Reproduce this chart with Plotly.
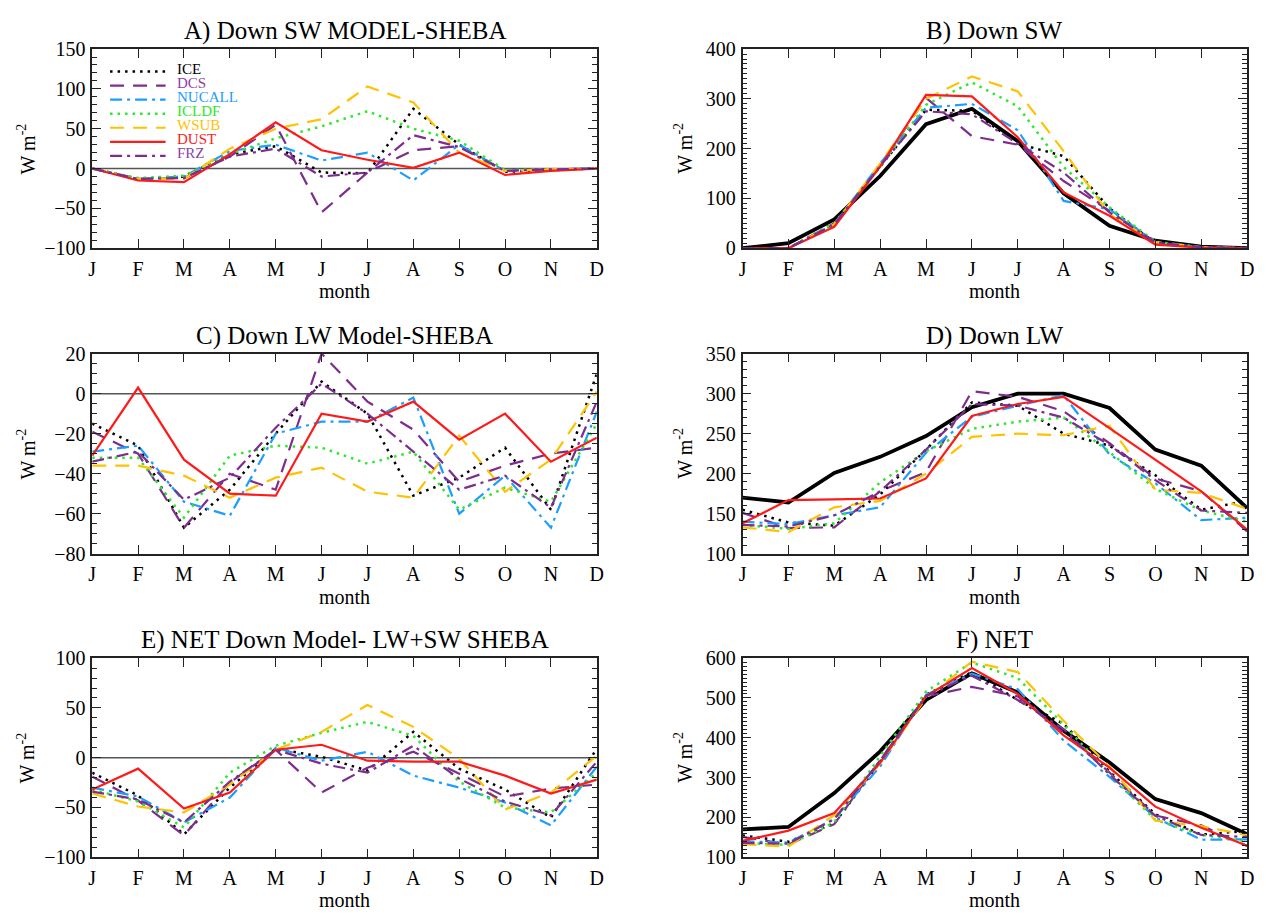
import plotly.graph_objects as go

# ---------------- data ----------------
months = ["J", "F", "M", "A", "M", "J", "J", "A", "S", "O", "N", "D"]
series_names = ["ICE", "DCS", "NUCALL", "ICLDF", "WSUB", "DUST", "FRZ"]

# A) Down SW  model - SHEBA
A_ice    = [0, -13, -10, 18, 28, -5, -6, 75, 30, -4, -2, 0]
A_dcs    = [0, -13, -12, 15, 55, -55, -5, 23, 28, -3, -1, 0]
A_nucall = [0, -13, -10, 22, 30, 10, 20, -15, 30, -3, -1, 0]
A_icldf  = [0, -12, -9, 18, 38, 53, 72, 50, 35, -2, -1, 0]
A_wsub   = [0, -13, -13, 25, 50, 62, 103, 83, 20, -3, -1, 0]
A_dust   = [0, -15, -17, 18, 58, 23, 11, 1, 20, -8, -3, 0]
A_frz    = [0, -13, -12, 15, 25, -10, -5, 42, 27, -3, -1, 0]

# B) Down SW
B_sheba  = [0, 10, 58, 145, 249, 280, 215, 110, 45, 15, 3, 0]
B_ice    = [0, 0, 50, 165, 278, 276, 210, 185, 80, 10, 2, 0]
B_dcs    = [0, 0, 50, 165, 302, 225, 208, 135, 75, 11, 2, 0]
B_nucall = [0, 0, 48, 170, 282, 290, 237, 95, 78, 12, 2, 0]
B_icldf  = [0, 0, 50, 165, 288, 333, 285, 163, 82, 13, 2, 0]
B_wsub   = [0, 0, 48, 170, 300, 345, 315, 195, 68, 12, 2, 0]
B_dust   = [0, 0, 43, 164, 308, 305, 223, 112, 65, 7, 1, 0]
B_frz    = [0, 0, 48, 165, 275, 269, 210, 152, 72, 12, 2, 0]

# C) Down LW  model - SHEBA
C_ice    = [-15, -26, -67, -48, -20, 6, -10, -51, -42, -27, -58, 10]
C_dcs    = [-19, -30, -67, -40, -48, 20, -4, -18, -44, -36, -30, -27]
C_nucall = [-29, -26, -54, -61, -20, -14, -14, -2, -60, -41, -67, -9]
C_icldf  = [-32, -32, -62, -31, -26, -27, -35, -29, -58, -47, -54, -15]
C_wsub   = [-36, -36, -41, -52, -42, -37, -49, -52, -21, -49, -33, 1]
C_dust   = [-31, 3, -33, -50, -51, -10, -14, -4, -23, -10, -34, -22]
C_frz    = [-34, -29, -53, -42, -17, 5, -10, -29, -48, -41, -57, -4]

# D) Down LW
D_sheba  = [170, 164, 201, 221, 247, 283, 300, 300, 282, 230, 210, 157]
D_ice    = [155, 139, 135, 174, 230, 289, 285, 250, 235, 198, 155, 166]
D_dcs    = [151, 132, 133, 178, 202, 303, 296, 278, 238, 194, 178, 128]
D_nucall = [140, 137, 148, 158, 226, 271, 285, 298, 224, 188, 142, 145]
D_icldf  = [136, 131, 138, 189, 228, 256, 265, 270, 227, 181, 154, 140]
D_wsub   = [133, 127, 158, 166, 200, 246, 250, 248, 260, 180, 176, 156]
D_dust   = [138, 167, 168, 169, 194, 272, 287, 296, 257, 217, 178, 130]
D_frz    = [136, 134, 148, 178, 230, 287, 285, 270, 236, 192, 154, 151]

# E) NET Down  model - SHEBA
E_ice    = [-15, -38, -77, -30, 9, 1, -13, 26, -11, -32, -60, 9]
E_dcs    = [-19, -43, -78, -25, 8, -35, -10, 6, -16, -39, -31, -27]
E_nucall = [-30, -39, -65, -40, 10, -3, 6, -18, -30, -45, -68, -9]
E_icldf  = [-32, -44, -70, -15, 12, 25, 36, 22, -24, -50, -55, -15]
E_wsub   = [-36, -49, -55, -27, 8, 26, 53, 31, -1, -52, -35, 2]
E_dust   = [-32, -11, -51, -35, 8, 13, -3, -4, -4, -18, -36, -22]
E_frz    = [-34, -42, -65, -24, 8, -6, -15, 12, -21, -44, -58, -4]

# F) NET
F_sheba  = [170, 176, 261, 366, 495, 562, 514, 418, 338, 246, 211, 158]
F_ice    = [155, 139, 185, 339, 508, 565, 495, 435, 315, 208, 157, 166]
F_dcs    = [151, 132, 183, 343, 504, 528, 504, 413, 313, 205, 180, 128]
F_nucall = [140, 137, 196, 328, 508, 561, 522, 393, 302, 200, 144, 145]
F_icldf  = [136, 131, 188, 354, 516, 589, 550, 433, 309, 194, 156, 140]
F_wsub   = [133, 127, 206, 336, 500, 591, 565, 443, 328, 192, 178, 156]
F_dust   = [141, 167, 211, 337, 504, 575, 510, 406, 325, 227, 174, 129]
F_frz    = [136, 134, 196, 343, 505, 556, 495, 422, 308, 204, 156, 151]

# ---------------- styles ----------------
series_colors = ["#000000", "#7D2E8D", "#1A9EFF", "#2DE82D", "#FFC200", "#FF1A1A", "#7D2E8D"]
text_colors   = ["#000000", "#8E3FA6", "#1A9EFF", "#2DE82D", "#FFC200", "#FF1A1A", "#8E3FA6"]
series_dash   = ["2.5px,5px", "14px,9px", "12px,5px,3px,5px", "2.5px,5px",
                 "14px,9px", "solid", "12px,5px,3px,5px"]
series_width  = [2.5, 2.2, 2.2, 2.5, 2.2, 2.2, 2.2]

FONT = "Liberation Serif"
W, H = 1266, 920
COLS = [(89, 598), (745, 1254)]
ROWS = [(39, 243), (351, 556), (663, 867)]


def fx(p):
    return p / W


def fy(p):
    return 1 - p / H


panels = [
    ("A) Down SW MODEL-SHEBA", 0, 0, [-100, 150], 50, 10,
     [A_ice, A_dcs, A_nucall, A_icldf, A_wsub, A_dust, A_frz], None),
    ("B) Down SW", 0, 1, [0, 400], 100, 10,
     [B_ice, B_dcs, B_nucall, B_icldf, B_wsub, B_dust, B_frz], B_sheba),
    ("C) Down LW Model-SHEBA", 1, 0, [-80, 20], 20, 5,
     [C_ice, C_dcs, C_nucall, C_icldf, C_wsub, C_dust, C_frz], None),
    ("D) Down LW", 1, 1, [100, 350], 50, 10,
     [D_ice, D_dcs, D_nucall, D_icldf, D_wsub, D_dust, D_frz], D_sheba),
    ("E) NET Down Model- LW+SW SHEBA", 2, 0, [-100, 100], 50, 10,
     [E_ice, E_dcs, E_nucall, E_icldf, E_wsub, E_dust, E_frz], None),
    ("F) NET", 2, 1, [100, 600], 100, 10,
     [F_ice, F_dcs, F_nucall, F_icldf, F_wsub, F_dust, F_frz], F_sheba),
]

xpos = list(range(len(months)))
fig = go.Figure()
annotations = []
shapes = []
layout = {}

for k, (title, r, c, yr, dt, mdt, models, sheba) in enumerate(panels, start=1):
    xa = "x" if k == 1 else f"x{k}"
    ya = "y" if k == 1 else f"y{k}"
    xl, xr = COLS[c]
    yt, yb = ROWS[r]

    if sheba is None:
        shapes.append(dict(type="line", xref=f"{xa} domain", yref=ya, x0=0, x1=1, y0=0, y1=0,
                           line=dict(color="#555555", width=1.5), layer="below"))
    else:
        fig.add_trace(go.Scatter(x=xpos, y=sheba, mode="lines", name="SHEBA",
                                 line=dict(color="black", width=3.8),
                                 xaxis=xa, yaxis=ya, showlegend=False))
    for i, vals in enumerate(models):
        fig.add_trace(go.Scatter(x=xpos, y=vals, mode="lines", name=series_names[i],
                                 line=dict(color=series_colors[i], width=series_width[i],
                                           dash=series_dash[i]),
                                 xaxis=xa, yaxis=ya, showlegend=False))

    common = dict(showline=True, linecolor="#222222", linewidth=1.5, mirror="ticks",
                  ticks="inside", tickcolor="#222222", tickwidth=1.3, ticklen=9,
                  showgrid=False, zeroline=False,
                  tickfont=dict(family=FONT, size=20, color="black"))
    layout["xaxis" if k == 1 else f"xaxis{k}"] = dict(
        common, domain=[fx(xl), fx(xr)], anchor=ya, range=[0, 11],
        tickmode="array", tickvals=xpos, ticktext=months, ticklabelstandoff=2)
    layout["yaxis" if k == 1 else f"yaxis{k}"] = dict(
        common, domain=[fy(yb), fy(yt)], anchor=xa, range=yr,
        tickmode="linear", tick0=0, dtick=dt, ticklabelstandoff=1,
        minor=dict(dtick=mdt, tick0=0, ticks="inside", ticklen=5, tickcolor="#222222",
                   tickwidth=1.1, showgrid=False))

    annotations.append(dict(text=title, xref="paper", yref="paper",
                            x=fx((xl + xr) / 2), y=fy(yt - 18.5), xanchor="center", yanchor="middle",
                            showarrow=False, font=dict(family=FONT, size=25, color="black")))
    annotations.append(dict(text="month", xref="paper", yref="paper",
                            x=fx((xl + xr) / 2), y=fy(yb + 44), xanchor="center", yanchor="middle",
                            showarrow=False, font=dict(family=FONT, size=20, color="black")))
    ytx = 22 if c == 0 else 685
    annotations.append(dict(text="W m<sup>-2</sup>", xref="paper", yref="paper",
                            x=fx(ytx), y=fy((yt + yb) / 2), xanchor="center", yanchor="middle",
                            textangle=-90, showarrow=False,
                            font=dict(family=FONT, size=20, color="black")))

# manual legend in panel A
for i, name in enumerate(series_names):
    ty = 59 + 14.4 * i
    shapes.append(dict(type="line", xref="paper", yref="paper",
                       x0=fx(107), x1=fx(163), y0=fy(ty + 3), y1=fy(ty + 3),
                       line=dict(color=series_colors[i], width=series_width[i], dash=series_dash[i])))
    annotations.append(dict(text=name, xref="paper", yref="paper", x=fx(172), y=fy(ty),
                            xanchor="left", yanchor="middle", showarrow=False,
                            font=dict(family=FONT, size=15, color=text_colors[i])))

fig.update_layout(width=W, height=H, margin=dict(l=0, r=0, t=0, b=0),
                  paper_bgcolor="white", plot_bgcolor="white",
                  showlegend=False, annotations=annotations, shapes=shapes, **layout)

fig.write_html("out.html", config={"displayModeBar": False},
               post_script="document.body.style.margin='0px';document.body.style.overflow='hidden';")
